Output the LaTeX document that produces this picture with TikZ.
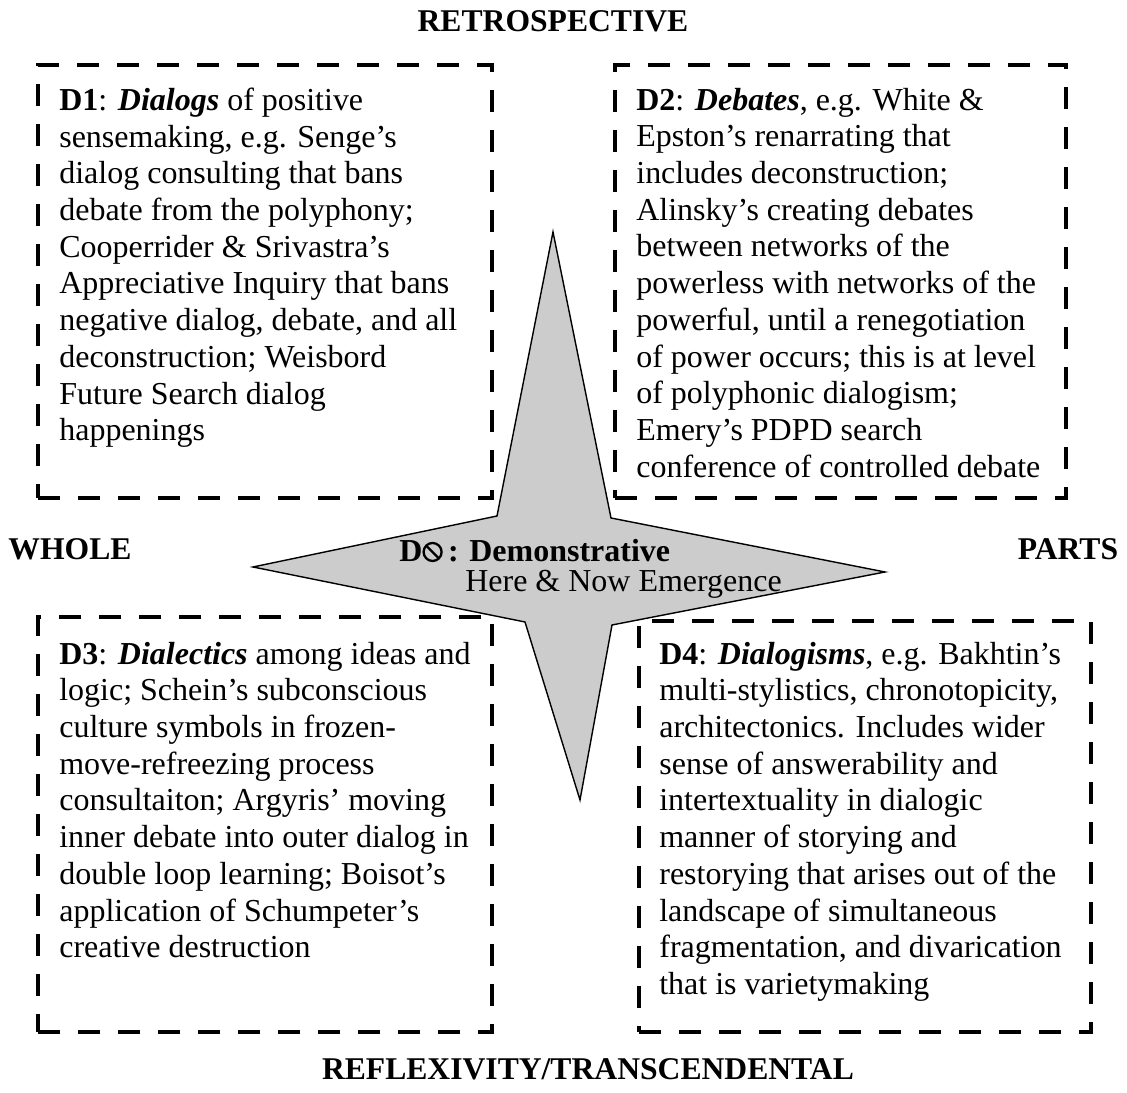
\documentclass[tikz,border=0pt]{standalone}
\usepackage{fontspec}
\setmainfont{Liberation Serif}
\usetikzlibrary{positioning}
\definecolor{stargray}{HTML}{CCCCCC}
% circle with a backslash, drawn inline
\newcommand{\nosign}{\tikz[baseline=0pt]{\draw[line width=1.3pt] (0,0.2) circle (0.18);
  \draw[line width=1.3pt] (-0.127,0.327) -- (0.127,0.073);}}

\begin{document}
\begin{tikzpicture}[
    every node/.style={font=\fontsize{18.2}{20.9}\selectfont},
    dbox/.style={draw=black, line width=2.3pt, dash pattern=on 0.44cm off 0.36cm,
                 minimum width=#1, inner sep=0pt},
    txt/.style={anchor=north west, align=left, inner sep=0pt},
    axis/.style={anchor=base, inner sep=0pt, font=\fontsize{18}{20.9}\selectfont\bfseries},
    starshape/.style={draw=black, line width=0.8pt, fill=stargray}
]
  \useasboundingbox (0,0) rectangle (22.54,21.86);

  % the four dashed boxes
  \node[dbox=9.08cm, minimum height=8.66cm] (box1) at (5.30,16.23) {};
  \node[dbox=9.02cm, minimum height=8.66cm] (box2) at (16.81,16.23) {};
  \node[dbox=9.08cm, minimum height=8.30cm] (box3) at (5.30,5.37) {};
  \node[dbox=9.04cm, minimum height=8.22cm] (box4) at (17.30,5.33) {};

  \node[txt] (d1) at (1.18,20.11) {\textbf{D1}: \textbf{\textit{Dialogs}} of positive\\
    sensemaking, e.g. Senge's\\
    dialog consulting that bans\\
    debate from the polyphony;\\
    Cooperrider \& Srivastra's\\
    Appreciative Inquiry that bans\\
    negative dialog, debate, and all\\
    deconstruction; Weisbord\\
    Future Search dialog\\
    happenings};
  \node[txt] (d2) at (12.72,20.11) {\textbf{D2}: \textbf{\textit{Debates}}, e.g. White \&\\
    Epston's renarrating that\\
    includes deconstruction;\\
    Alinsky's creating debates\\
    between networks of the\\
    powerless with networks of the\\
    powerful, until a renegotiation\\
    of power occurs; this is at level\\
    of polyphonic dialogism;\\
    Emery's PDPD search\\
    conference of controlled debate};
  \node[txt] (d3) at (1.18,9.03) {\textbf{D3}: \textbf{\textit{Dialectics}} among ideas and\\
    logic; Schein's subconscious\\
    culture symbols in frozen-\\
    move-refreezing process\\
    consultaiton; Argyris' moving\\
    inner debate into outer dialog in\\
    double loop learning; Boisot's\\
    application of Schumpeter's\\
    creative destruction};
  \node[txt] (d4) at (13.18,9.03) {\textbf{D4}: \textbf{\textit{Dialogisms}}, e.g. Bakhtin's\\
    multi-stylistics, chronotopicity,\\
    architectonics. Includes wider\\
    sense of answerability and\\
    intertextuality in dialogic\\
    manner of storying and\\
    restorying that arises out of the\\
    landscape of simultaneous\\
    fragmentation, and divarication\\
    that is varietymaking};

  % star in the middle
  \draw[starshape] (11.06,17.22) -- (12.22,11.50) -- (17.70,10.42) -- (12.24,9.36)
    -- (11.60,5.86) -- (10.50,9.42) -- (5.06,10.52) -- (9.94,11.54) -- cycle;
  \node[anchor=base west, inner sep=0pt] (demo) at (7.98,10.62)
    {\textbf{D\nosign\,: Demonstrative}};
  \node[anchor=base west, inner sep=0pt] (emerg) at (9.30,10.02) {Here \& Now Emergence};

  % axis labels
  \node[axis] (retro) at (11.06,21.22) {RETROSPECTIVE};
  \node[axis] (whole) at (1.40,10.66) {WHOLE};
  \node[axis] (parts) at (21.36,10.66) {PARTS};
  \node[axis] (refl) at (11.76,0.26) {REFLEXIVITY/TRANSCENDENTAL};
\end{tikzpicture}
\end{document}
